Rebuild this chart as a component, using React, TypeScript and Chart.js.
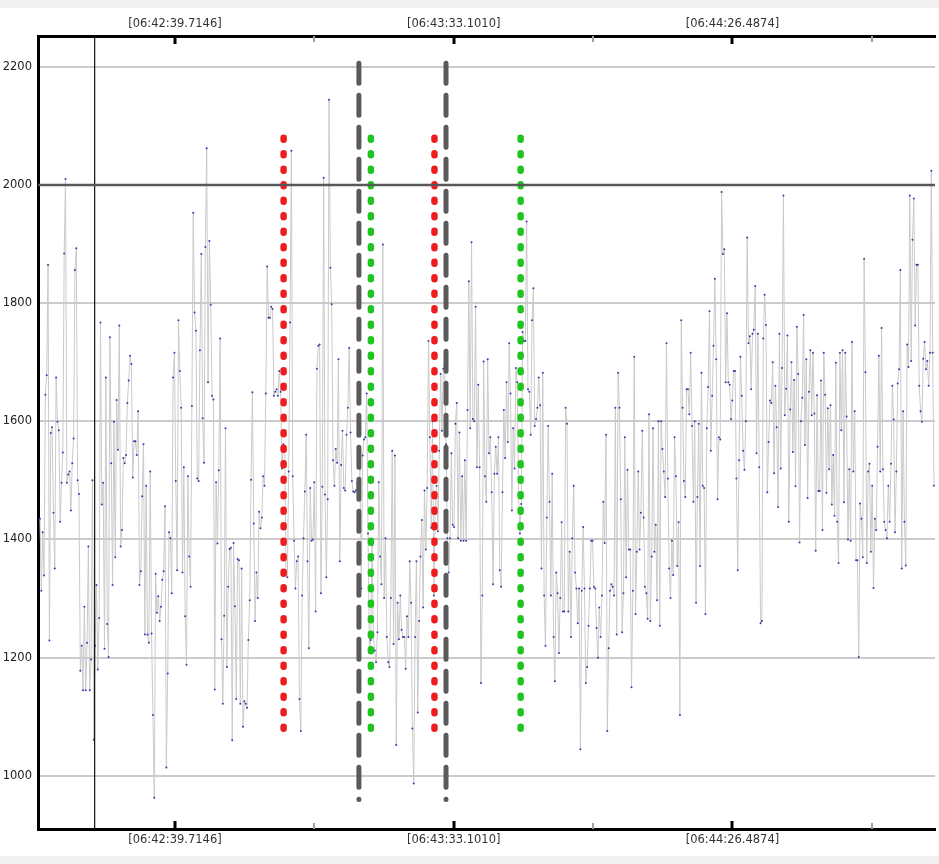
import React, { useEffect, useRef } from 'react';
import { Chart, registerables } from 'chart.js';

Chart.register(...registerables);

// ---- series values, in time order ----
const segA = [
  1435, 1313, 1412, 1339, 1645, 1678, 1865, 1229, 1580, 1590,
  1445, 1351, 1674, 1599, 1585, 1430, 1496, 1547, 1884, 2010,
  1496, 1510, 1515, 1449, 1529, 1571, 1856, 1893, 1500, 1477,
  1178, 1220, 1145, 1286, 1145, 1225, 1388, 1145, 1197, 1500,
  1061, 1220, 1323, 1180, 1267, 1767, 1459, 1496, 1215, 1674,
  1257, 1201, 1742, 1529, 1323, 1599, 1370, 1636, 1552, 1762,
  1388, 1416, 1538, 1529, 1543, 1631, 1669, 1711, 1697, 1505,
  1566, 1566, 1543, 1617, 1323, 1346, 1473, 1561, 1239, 1491,
  1239, 1225, 1515, 1241, 1103, 963, 1342, 1276, 1304, 1262,
  1286, 1332, 1346, 1456, 1014, 1173, 1412, 1402, 1309, 1674,
  1716,
];
const segB = [
  1499, 1348, 1771, 1685, 1623, 1344, 1522, 1270, 1188, 1507,
  1371, 1320, 1626, 1953, 1784, 1753, 1503, 1499, 1720, 1883,
  1605, 1530, 1895, 2062, 1666, 1905, 1797, 1643, 1637, 1146,
  1497, 1393, 1517, 1740, 1231, 1122, 1271, 1588, 1184, 1320,
  1384, 1386, 1060, 1394, 1287, 1130, 1367, 1365, 1122, 1351,
  1083, 1126, 1122, 1115, 1230, 1297, 1501, 1649, 1427, 1262,
  1344, 1301, 1447, 1419, 1437, 1507, 1491, 1647, 1862, 1775,
  1775, 1794, 1790, 1643, 1650, 1654, 1643, 1685, 1650, 1520,
  1561, 1557, 1344, 1336, 1515, 1767, 2058, 1507, 1398, 1317,
  1363, 1371, 1130, 1076, 1305, 1402, 1481, 1577, 1363, 1216,
  1487, 1398, 1400, 1497, 1278, 1689, 1728, 1730, 1309, 1489,
  2012, 1476, 1336, 1468, 2144,
];
const segC = [
  1860, 1798, 1534, 1491, 1553, 1530, 1705, 1363, 1526, 1584,
  1487, 1483, 1577, 1623, 1724, 1581, 1499, 1481, 1480, 1483,
  1495, 1470, 1520, 1317, 1542, 1569, 1573, 1647, 1410, 1208,
  1230, 1390, 1239, 1212, 1192, 1243, 1497, 1371, 1324, 1899,
  1301, 1402, 1235, 1192, 1184, 1301, 1550, 1223, 1542, 1052,
  1293, 1231, 1305, 1247, 1235, 1235, 1181, 1270, 1235, 1363,
  1293, 1080, 987, 1235, 1363, 1107, 1262, 1371, 1433, 1285,
  1483, 1383, 1487, 1736, 1573, 1420, 1600, 1305, 1450, 1491,
  1414, 1550, 1680, 1584, 1689, 1697, 1561, 1402, 1344, 1402,
  1546, 1425, 1421, 1596, 1631, 1402, 1581, 1398, 1507, 1398,
  1534, 1398, 1619, 1837, 1588,
];
const segD = [
  1903, 1604, 1600, 1794, 1522, 1662, 1522, 1157, 1305, 1701,
  1507, 1464, 1705, 1546, 1573, 1480, 1324, 1511, 1557, 1511,
  1573, 1348, 1320, 1480, 1619, 1538, 1666, 1565, 1732, 1647,
  1449, 1588, 1520, 1690, 1666, 1476, 1410, 1460, 1751, 1736,
  1736, 1938, 1654, 1650, 1577, 1771, 1825, 1592, 1604, 1623,
  1674, 1627, 1351, 1682, 1305, 1220, 1437, 1592, 1464, 1305,
  1511, 1235, 1160, 1344, 1309, 1208, 1301, 1429, 1278, 1278,
  1623, 1596, 1278, 1379, 1235, 1402, 1491, 1344, 1317, 1258,
  1317, 1045, 1313, 1421, 1317, 1157, 1184, 1254, 1317, 1398,
  1398, 1320, 1317, 1250, 1200, 1285, 1235, 1305, 1464, 1394,
  1577, 1076, 1216, 1313, 1324, 1320, 1305, 1623, 1239, 1682,
  1623, 1468,
];
const segE = [
  1243, 1309, 1573, 1336, 1518, 1383, 1383, 1150, 1313, 1709,
  1274, 1379, 1515, 1383, 1445, 1584, 1437, 1320, 1309, 1266,
  1612, 1262, 1371, 1588, 1379, 1425, 1297, 1600, 1254, 1600,
  1553, 1515, 1472, 1732, 1503, 1351, 1301, 1398, 1340, 1573,
  1507, 1355, 1429, 1103, 1771, 1623, 1499, 1472, 1654, 1654,
  1612, 1716, 1592, 1464, 1600, 1293, 1472, 1596, 1355, 1682,
  1491, 1487, 1274, 1588, 1658, 1786, 1550, 1643, 1728, 1841,
  1705, 1468, 1573, 1569, 1988, 1883, 1891, 1666, 1783, 1666,
  1662, 1604, 1635, 1685, 1685, 1503, 1348, 1534, 1709, 1643,
  1550, 1518, 1600, 1911, 1732, 1744, 1654, 1748, 1755, 1829,
  1546, 1748, 1522, 1258, 1262, 1740, 1814, 1763, 1480, 1565,
  1635, 1631,
];
const segF = [
  1700, 1512, 1660, 1590, 1455, 1748, 1520, 1690, 1982, 1610,
  1655, 1745, 1430, 1620, 1700, 1548, 1670, 1490, 1760, 1680,
  1395, 1600, 1640, 1780, 1560, 1705, 1470, 1650, 1720, 1610,
];
const segG = [
  1716, 1613, 1381, 1644, 1482, 1482, 1669, 1416, 1716, 1645,
  1479, 1622, 1519, 1627, 1459, 1543, 1440, 1699, 1430, 1360,
  1716, 1585, 1720, 1463, 1716, 1608, 1400, 1519, 1398, 1734,
  1515, 1617, 1365, 1365, 1201, 1461, 1435, 1370, 1875, 1683,
  1360, 1515, 1528, 1379, 1491, 1318, 1435, 1416, 1557, 1711,
  1515, 1758, 1519, 1430, 1416, 1402, 1491, 1430, 1528, 1660,
  1603, 1412, 1515, 1664, 1688, 1856, 1351, 1617, 1430, 1356,
  1730, 1692, 1982, 1702, 1907, 1977, 1762, 1865, 1865, 1660,
  1617, 1599, 1706, 1734, 1688, 1702, 1660, 1716, 2024, 1716,
  1491,
];
const values = [...segA, ...segB, ...segC, ...segD, ...segE, ...segF, ...segG];

// ---- time base (seconds after 06:42:00) ----
const T_FIRST = 13.87;
const T_LAST = 185.09;
const X_MIN = 13.49;
const X_MAX = 185.28;

// ---- axes ----
const Y_MIN = 910;
const Y_MAX = 2252;
const yTicks = [1000, 1200, 1400, 1600, 1800, 2000, 2200];
const majorTicks = [39.7146, 93.101, 146.4874];
const minorTicks = [66.4078, 119.7942, 173.1806];
const majorLabels = ['[06:42:39.7146]', '[06:43:33.1010]', '[06:44:26.4874]'];

// ---- annotations ----
const threshold = 2000;
const cursorTime = 24.34;
const redMarkers = [60.53, 89.42];
const greenMarkers = [77.24, 105.92];
const greyMarkers = [74.95, 91.63];
const colorRange = [2080, 1065];
const greyRange = [2206, 960];

const FONT = { family: 'DejaVu Sans', size: 11.5 };

const insideTicks = {
  id: 'insideTicks',
  afterDraw(chart: any) {
    const { ctx, chartArea } = chart;
    const sx = chart.scales.x;
    ctx.save();
    ctx.lineCap = 'butt';
    const draw = (t: number, color: string, w: number, len: number) => {
      const px = Math.round(sx.getPixelForValue(t));
      ctx.strokeStyle = color;
      ctx.lineWidth = w;
      ctx.beginPath();
      ctx.moveTo(px, chartArea.top);
      ctx.lineTo(px, chartArea.top + len);
      ctx.moveTo(px, chartArea.bottom);
      ctx.lineTo(px, chartArea.bottom - len);
      ctx.stroke();
    };
    minorTicks.forEach((t) => draw(t, '#a0a0a0', 2, 6));
    majorTicks.forEach((t) => draw(t, '#000000', 3, 8));
    ctx.restore();
  },
};

function vline(t: number, range: number[]) {
  return [
    { x: t, y: range[0] },
    { x: t, y: range[1] },
  ];
}

export default function App() {
  const ref = useRef<HTMLCanvasElement | null>(null);

  useEffect(() => {
    if (!ref.current) return;
    const dt = (T_LAST - T_FIRST) / (values.length - 1);
    const series = values.map((v, i) => ({ x: T_FIRST + i * dt, y: v }));
    const xTickList = [...majorTicks, ...minorTicks].sort((a, b) => a - b);
    const labelFor = (v: number) => {
      const i = majorTicks.findIndex((m) => Math.abs(m - v) < 1e-3);
      return i >= 0 ? majorLabels[i] : '';
    };
    const markerDs = (t: number, color: string, range: number[], dash: number[], w: number, order: number) => ({
      data: vline(t, range),
      borderColor: color,
      borderWidth: w,
      borderDash: dash,
      borderCapStyle: 'round',
      pointRadius: 0,
      order,
    });
    const datasets: any[] = [
      {
        data: series,
        borderColor: '#cacaca',
        borderWidth: 1,
        pointRadius: 1,
        pointBackgroundColor: '#3a3aa6',
        pointBorderWidth: 0,
        order: 10,
      },
      ...greyMarkers.map((t) => markerDs(t, '#5a5a5a', greyRange, [20, 12], 5, 4)),
      ...redMarkers.map((t) => markerDs(t, '#ee1c1c', colorRange, [2, 13.5], 6.5, 3)),
      ...greenMarkers.map((t) => markerDs(t, '#1fc41f', colorRange, [2, 13.5], 6.5, 3)),
      {
        data: [
          { x: X_MIN, y: threshold },
          { x: X_MAX, y: threshold },
        ],
        borderColor: '#585858',
        borderWidth: 2.5,
        pointRadius: 0,
        order: 1,
      },
      {
        data: vline(cursorTime, [Y_MAX, Y_MIN]),
        borderColor: '#111111',
        borderWidth: 1.2,
        pointRadius: 0,
        order: 1,
      },
    ];

    const xAxisBase = {
      type: 'linear',
      min: X_MIN,
      max: X_MAX,
      afterBuildTicks: (axis: any) => {
        axis.ticks = xTickList.map((v) => ({ value: v }));
      },
      grid: { display: false, drawTicks: false },
      border: { display: true, color: '#000000', width: 3 },
    };

    const chart = new Chart(ref.current, {
      type: 'line',
      data: { datasets },
      options: {
        responsive: false,
        animation: false,
        events: [],
        layout: { padding: 0 },
        plugins: { legend: { display: false }, tooltip: { enabled: false } },
        scales: {
          x: {
            ...xAxisBase,
            position: 'bottom',
            afterFit: (s: any) => {
              s.height = 27;
            },
            ticks: {
              autoSkip: false,
              maxRotation: 0,
              padding: 4,
              color: '#333333',
              font: FONT,
              callback: (v: any) => labelFor(Number(v)),
            },
          },
          x2: {
            ...xAxisBase,
            position: 'top',
            afterFit: (s: any) => {
              s.height = 28;
            },
            ticks: {
              autoSkip: false,
              maxRotation: 0,
              padding: 5,
              color: '#333333',
              font: FONT,
              callback: (v: any) => labelFor(Number(v)),
            },
          },
          y: {
            type: 'linear',
            position: 'left',
            min: Y_MIN,
            max: Y_MAX,
            afterBuildTicks: (axis: any) => {
              axis.ticks = yTicks.map((v) => ({ value: v }));
            },
            afterFit: (s: any) => {
              s.width = 38;
            },
            ticks: {
              padding: 6,
              color: '#222222',
              font: FONT,
              callback: (v: any) => String(v),
            },
            grid: { color: '#cbcbcb', lineWidth: 2, drawTicks: false },
            border: { display: true, color: '#000000', width: 3 },
          },
        },
      } as any,
      plugins: [insideTicks],
    });
    return () => chart.destroy();
  }, []);

  return (
    <div
      style={{
        position: 'fixed',
        left: 0,
        top: 0,
        width: 939,
        height: 864,
        background: '#f0f0f0',
        overflow: 'hidden',
      }}
    >
      <canvas
        ref={ref}
        width={939}
        height={848}
        style={{ position: 'absolute', left: 0, top: 8, width: 939, height: 848, background: '#ffffff' }}
      />
    </div>
  );
}
